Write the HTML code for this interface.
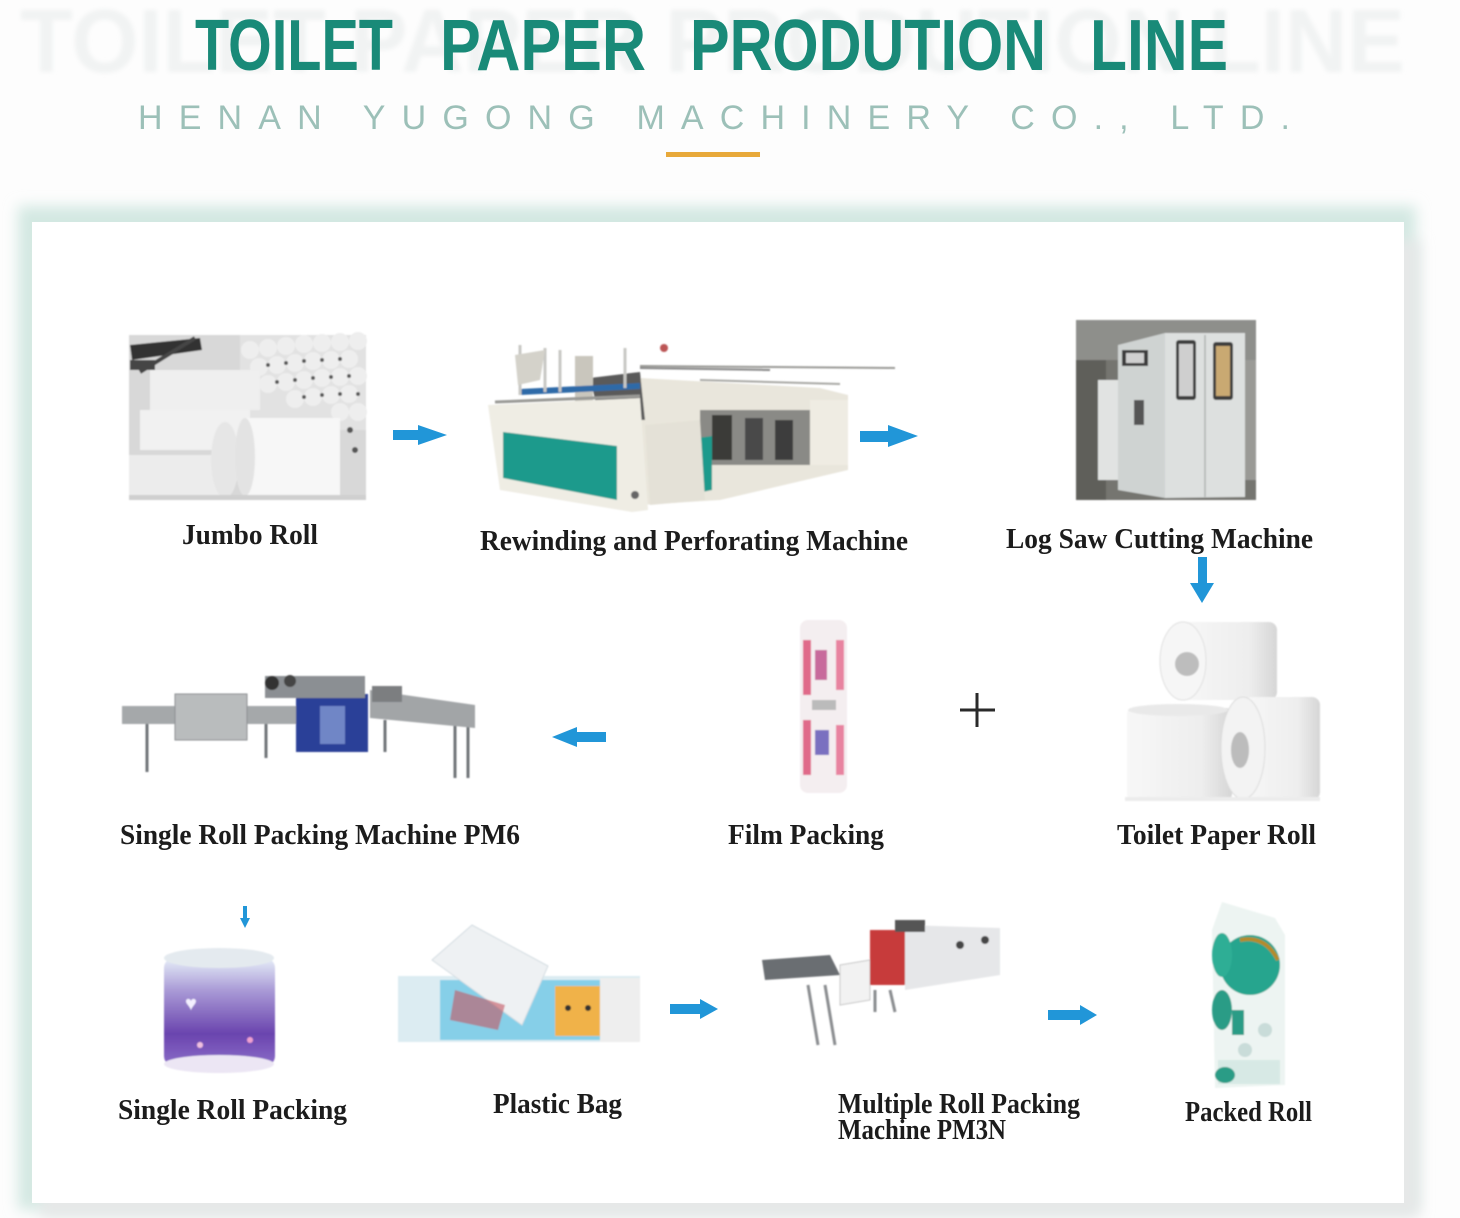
<!DOCTYPE html>
<html><head><meta charset="utf-8"><style>
html,body{margin:0;padding:0;background:#fdfdfd;}
svg{display:block;}
.lbl{font-family:"Liberation Serif",serif;font-weight:bold;font-size:28px;fill:#1c1c1c;}
</style></head><body>
<svg width="1460" height="1218" viewBox="0 0 1460 1218" xmlns="http://www.w3.org/2000/svg">
<defs>
<filter id="b6" x="-10%" y="-10%" width="120%" height="120%"><feGaussianBlur stdDeviation="7"/></filter>
<filter id="b1"><feGaussianBlur stdDeviation="0.7"/></filter>
<filter id="b2"><feGaussianBlur stdDeviation="2"/></filter>
<linearGradient id="can" x1="0" y1="0" x2="0" y2="1">
<stop offset="0" stop-color="#e6eef8"/><stop offset="0.3" stop-color="#a99ad6"/><stop offset="0.7" stop-color="#6a44ae"/><stop offset="1" stop-color="#8a6cc8"/></linearGradient>
<linearGradient id="roll" x1="0" y1="0" x2="1" y2="0">
<stop offset="0" stop-color="#f7f7f7"/><stop offset="0.7" stop-color="#eeeeee"/><stop offset="1" stop-color="#d6d6d6"/></linearGradient>
</defs>
<rect width="1460" height="1218" fill="#fdfdfd"/>

<!-- header -->
<text x="20" y="72" font-family="Liberation Sans,sans-serif" font-weight="bold" font-size="90" fill="#f1f3f3" textLength="1385" lengthAdjust="spacingAndGlyphs" filter="url(#b2)">TOILET PAPER PRODUTION LINE</text>
<g font-family="Liberation Sans,sans-serif" font-weight="bold" font-size="72" fill="#198a78">
<text x="195" y="70" textLength="198" lengthAdjust="spacingAndGlyphs">TOILET</text>
<text x="440" y="70" textLength="206" lengthAdjust="spacingAndGlyphs">PAPER</text>
<text x="690" y="70" textLength="356" lengthAdjust="spacingAndGlyphs">PRODUTION</text>
<text x="1090" y="70" textLength="138" lengthAdjust="spacingAndGlyphs">LINE</text>
</g>
<text x="138" y="129" font-family="Liberation Sans,sans-serif" font-size="34" fill="#9cc0b8" textLength="1152" lengthAdjust="spacing">HENAN YUGONG MACHINERY CO., LTD.</text>
<rect x="666" y="152" width="94" height="5" fill="#e8a93a"/>

<!-- card shadow -->
<rect x="18" y="206" width="1398" height="1004" fill="#d3e8e2" filter="url(#b6)"/>
<rect x="40" y="240" width="1380" height="978" fill="#e6e8e8" filter="url(#b6)"/>
<rect x="32" y="222" width="1372" height="981" fill="#ffffff"/>

<!-- Jumbo roll photo -->
<g filter="url(#b1)">
<rect x="129" y="335" width="237" height="165" fill="#d8d8d8"/>
<rect x="240" y="335" width="126" height="95" fill="#e2e2e2"/>
<g fill="#eeeeee">
<circle cx="250" cy="350" r="9"/><circle cx="268" cy="348" r="9"/><circle cx="286" cy="346" r="9"/><circle cx="304" cy="344" r="9"/><circle cx="322" cy="343" r="9"/><circle cx="340" cy="342" r="9"/><circle cx="358" cy="341" r="9"/>
<circle cx="259" cy="367" r="9"/><circle cx="277" cy="365" r="9"/><circle cx="295" cy="363" r="9"/><circle cx="313" cy="361" r="9"/><circle cx="331" cy="360" r="9"/><circle cx="349" cy="359" r="9"/>
<circle cx="268" cy="384" r="9"/><circle cx="286" cy="382" r="9"/><circle cx="304" cy="380" r="9"/><circle cx="322" cy="378" r="9"/><circle cx="340" cy="377" r="9"/><circle cx="358" cy="376" r="9"/>
<circle cx="295" cy="399" r="9"/><circle cx="313" cy="397" r="9"/><circle cx="331" cy="395" r="9"/><circle cx="349" cy="394" r="9"/>
<circle cx="340" cy="412" r="9"/><circle cx="358" cy="412" r="9"/>
</g>
<g fill="#555">
<circle cx="268" cy="365" r="2"/><circle cx="286" cy="363" r="2"/><circle cx="304" cy="361" r="2"/><circle cx="322" cy="360" r="2"/><circle cx="340" cy="359" r="2"/>
<circle cx="277" cy="382" r="2"/><circle cx="295" cy="380" r="2"/><circle cx="313" cy="378" r="2"/><circle cx="331" cy="377" r="2"/><circle cx="349" cy="376" r="2"/>
<circle cx="304" cy="397" r="2"/><circle cx="322" cy="395" r="2"/><circle cx="340" cy="394" r="2"/><circle cx="358" cy="394" r="2"/>
<circle cx="350" cy="430" r="3"/><circle cx="355" cy="450" r="3"/>
</g>
<rect x="150" y="370" width="110" height="40" fill="#efefef"/>
<rect x="140" y="410" width="110" height="40" fill="#f1f1f1"/>
<rect x="129" y="455" width="100" height="45" fill="#ececec"/>
<path d="M130 345 L200 338 L202 350 L132 360 Z" fill="#333"/>
<path d="M140 372 L195 338" stroke="#444" stroke-width="4"/>
<rect x="130" y="360" width="25" height="10" fill="#444"/>
<ellipse cx="225" cy="460" rx="14" ry="38" fill="#e6e6e6"/>
<rect x="245" y="418" width="95" height="78" fill="#f7f7f7"/>
<ellipse cx="245" cy="457" rx="10" ry="39" fill="#e3e3e3"/>
<rect x="129" y="495" width="237" height="5" fill="#cfcfcf"/>
</g>

<!-- Rewinding machine -->
<g filter="url(#b1)">
<polygon points="640,378 820,388 848,395 848,470 720,500 640,505" fill="#e9e6dc"/>
<line x1="640" y1="366" x2="895" y2="368" stroke="#9a9a96" stroke-width="2"/>
<line x1="700" y1="380" x2="840" y2="384" stroke="#a8a8a4" stroke-width="2"/>
<rect x="700" y="410" width="110" height="55" fill="#8a8a86"/>
<rect x="712" y="415" width="20" height="45" fill="#3a3a38"/>
<rect x="745" y="418" width="18" height="42" fill="#4a4a48"/>
<rect x="775" y="420" width="18" height="40" fill="#3e3e3c"/>
<rect x="810" y="400" width="38" height="65" fill="#efece3"/>
<polygon points="590,378 640,372 645,420 600,420" fill="#5a5a5a"/>
<rect x="575" y="356" width="18" height="55" fill="#c9c6bd"/>
<polygon points="488,405 640,398 648,510 632,512 500,490" fill="#efede4"/>
<polygon points="503,432 617,446 617,500 503,478" fill="#1e9a8c"/>
<polygon points="683,440 712,436 712,490 683,496" fill="#1e9a8c"/>
<polygon points="645,425 700,420 705,500 650,505" fill="#e4e1d7"/>
<line x1="520" y1="392" x2="640" y2="386" stroke="#2f6aa8" stroke-width="6"/>
<line x1="495" y1="402" x2="640" y2="396" stroke="#9a9a96" stroke-width="3"/>
<line x1="520" y1="345" x2="520" y2="395" stroke="#c8c8c4" stroke-width="3"/>
<line x1="545" y1="348" x2="545" y2="392" stroke="#c8c8c4" stroke-width="3"/>
<line x1="560" y1="350" x2="560" y2="392" stroke="#c8c8c4" stroke-width="3"/>
<line x1="625" y1="348" x2="625" y2="388" stroke="#c8c8c4" stroke-width="3"/>
<polygon points="515,355 545,350 540,380 518,385" fill="#d4d2ca"/>
<line x1="640" y1="368" x2="770" y2="370" stroke="#888" stroke-width="2"/>
<circle cx="635" cy="495" r="4" fill="#666"/>
<circle cx="664" cy="348" r="4" fill="#b55"/>
</g>

<!-- Log saw photo -->
<g filter="url(#b1)">
<rect x="1076" y="320" width="180" height="180" fill="#74746f"/>
<rect x="1076" y="320" width="180" height="40" fill="#8e8f8b"/>
<rect x="1076" y="360" width="30" height="140" fill="#5e5e5a"/>
<rect x="1098" y="380" width="32" height="100" fill="#e1e3e2"/>
<polygon points="1118,345 1165,333 1165,498 1118,490" fill="#cfd3d2"/>
<polygon points="1165,333 1245,333 1245,497 1165,498" fill="#dde0df"/>
<rect x="1122" y="350" width="26" height="16" fill="#3a3a3a"/><rect x="1126" y="353" width="18" height="10" fill="#d0d0d0"/>
<rect x="1176" y="340" width="20" height="60" rx="3" fill="#3c3c3c"/><rect x="1179" y="344" width="14" height="52" fill="#cfcfcf"/>
<rect x="1213" y="342" width="20" height="58" rx="3" fill="#3c3c3c"/><rect x="1216" y="346" width="14" height="50" fill="#c9a972"/>
<rect x="1134" y="400" width="10" height="25" fill="#555"/>
<line x1="1205" y1="335" x2="1205" y2="497" stroke="#b0b3b2" stroke-width="1.5"/>
<rect x="1245" y="360" width="11" height="120" fill="#9a9a96"/>
</g>

<!-- labels row 1 -->
<text class="lbl" x="182" y="544" textLength="136" lengthAdjust="spacingAndGlyphs">Jumbo Roll</text>
<text class="lbl" x="480" y="550" textLength="428" lengthAdjust="spacingAndGlyphs">Rewinding and Perforating Machine</text>
<text class="lbl" x="1006" y="548" textLength="307" lengthAdjust="spacingAndGlyphs">Log Saw Cutting Machine</text>

<!-- arrows -->
<g fill="#2196d8">
<polygon points="393,430 418,430 418,425 447,435 418,445 418,440 393,440"/>
<polygon points="860,431 888,431 888,425 918,436 888,447 888,442 860,442"/>
<polygon points="1198,557 1207,557 1207,583 1214,583 1202,603 1190,583 1198,583"/>
<polygon points="606,732 577,732 577,727 552,737 577,747 577,742 606,742"/>
<polygon points="243,906 247,906 247,918 250,918 245,928 240,918 243,918"/>
<polygon points="670,1004 700,1004 700,999 718,1009 700,1019 700,1014 670,1014"/>
<polygon points="1048,1010 1080,1010 1080,1005 1097,1015 1080,1025 1080,1020 1048,1020"/>
</g>

<!-- toilet rolls -->
<g filter="url(#b1)">
<rect x="1180" y="622" width="97" height="78" rx="8" fill="url(#roll)"/>
<ellipse cx="1183" cy="661" rx="23" ry="39" fill="#f6f6f6" stroke="#e0e0e0"/>
<circle cx="1187" cy="664" r="12" fill="#bdbdbd"/>
<rect x="1127" y="708" width="105" height="92" rx="6" fill="url(#roll)"/>
<ellipse cx="1178" cy="710" rx="50" ry="6" fill="#e9e9e9"/>
<rect x="1243" y="697" width="77" height="103" rx="8" fill="url(#roll)"/>
<ellipse cx="1243" cy="748" rx="22" ry="51" fill="#f3f3f3" stroke="#dcdcdc"/>
<ellipse cx="1240" cy="750" rx="9" ry="18" fill="#bcbcbc"/>
<rect x="1125" y="797" width="195" height="4" fill="#ececec"/>
</g>
<text class="lbl" x="1117" y="844" textLength="199" lengthAdjust="spacingAndGlyphs">Toilet Paper Roll</text>

<!-- plus -->
<g stroke="#2a2a2a" stroke-width="3"><line x1="960" y1="710" x2="995" y2="710"/><line x1="977" y1="693" x2="977" y2="727"/></g>

<!-- film -->
<g filter="url(#b1)">
<rect x="800" y="620" width="47" height="173" rx="8" fill="#f4eef0"/>
<rect x="803" y="640" width="8" height="55" fill="#e06b8a"/>
<rect x="836" y="640" width="8" height="50" fill="#e883a0"/>
<rect x="815" y="650" width="12" height="30" fill="#c86b9c"/>
<rect x="803" y="720" width="8" height="55" fill="#e06b8a"/>
<rect x="836" y="725" width="8" height="50" fill="#e883a0"/>
<rect x="815" y="730" width="14" height="25" fill="#7a6fc0"/>
<rect x="812" y="700" width="24" height="10" fill="#bbb"/>
</g>
<text class="lbl" x="728" y="844" textLength="156" lengthAdjust="spacingAndGlyphs">Film Packing</text>

<!-- single roll packing machine -->
<g filter="url(#b1)">
<g stroke="#707478" stroke-width="3">
<line x1="147" y1="720" x2="147" y2="772"/><line x1="266" y1="722" x2="266" y2="758"/><line x1="385" y1="720" x2="385" y2="752"/><line x1="455" y1="725" x2="455" y2="778"/><line x1="468" y1="725" x2="468" y2="778"/>
</g>
<rect x="122" y="706" width="180" height="18" fill="#a5a8aa"/>
<rect x="175" y="694" width="72" height="46" fill="#b9bcbd" stroke="#8a8d90"/>
<rect x="296" y="694" width="72" height="58" fill="#2c3f98"/>
<rect x="320" y="706" width="25" height="38" fill="#6f86c6"/>
<rect x="265" y="676" width="100" height="22" fill="#8b8f93"/>
<circle cx="272" cy="683" r="7" fill="#333"/><circle cx="290" cy="681" r="6" fill="#444"/>
<polygon points="370,690 475,705 475,728 370,718" fill="#a2a5a7"/>
<rect x="372" y="686" width="30" height="16" fill="#7b7e80"/>
</g>
<text class="lbl" x="120" y="844" textLength="400" lengthAdjust="spacingAndGlyphs">Single Roll Packing Machine PM6</text>

<!-- purple can -->
<g filter="url(#b1)">
<rect x="164" y="958" width="111" height="108" rx="10" fill="url(#can)"/>
<ellipse cx="219" cy="958" rx="55" ry="10" fill="#e4eaef"/>
<ellipse cx="219" cy="1064" rx="55" ry="9" fill="#ece6f4"/>
<text x="185" y="1010" font-family="Liberation Sans,sans-serif" font-weight="bold" font-size="20" fill="#f4f0ff">♥</text>
<circle cx="250" cy="1040" r="3" fill="#f0a0d0"/><circle cx="200" cy="1045" r="3" fill="#f0c0e0"/>
</g>
<text class="lbl" x="118" y="1119" textLength="229" lengthAdjust="spacingAndGlyphs">Single Roll Packing</text>

<!-- plastic bag -->
<g filter="url(#b1)">
<rect x="398" y="976" width="242" height="66" fill="#dcecf2"/>
<rect x="440" y="980" width="160" height="60" fill="#86cfe8"/>
<rect x="555" y="986" width="45" height="50" fill="#f0b24a"/>
<circle cx="568" cy="1008" r="3" fill="#333"/><circle cx="588" cy="1008" r="3" fill="#333"/>
<rect x="600" y="978" width="40" height="64" fill="#eeeeee"/>
<polygon points="432,960 472,925 548,966 522,1025" fill="#eef1f3" stroke="#d4dde2"/>
<polygon points="455,990 505,1005 498,1030 450,1020" fill="#c55560" opacity="0.6"/>
</g>
<text class="lbl" x="493" y="1113" textLength="129" lengthAdjust="spacingAndGlyphs">Plastic Bag</text>

<!-- multiple roll packing machine -->
<g filter="url(#b1)">
<g stroke="#8a8d90" stroke-width="3">
<line x1="808" y1="985" x2="818" y2="1045"/><line x1="825" y1="985" x2="835" y2="1045"/><line x1="875" y1="990" x2="875" y2="1012"/><line x1="890" y1="990" x2="895" y2="1012"/>
</g>
<polygon points="762,960 830,955 840,975 765,980" fill="#6a6e72"/>
<polygon points="840,965 870,960 870,1000 840,1005" fill="#f2f2f2" stroke="#c8c8c8"/>
<rect x="870" y="930" width="35" height="55" fill="#c73a3a"/>
<polygon points="905,925 1000,928 1000,975 905,990" fill="#e6e7e9"/>
<rect x="895" y="920" width="30" height="12" fill="#555"/>
<circle cx="960" cy="945" r="4" fill="#444"/><circle cx="985" cy="940" r="4" fill="#444"/>
</g>
<text class="lbl" x="838" y="1113" textLength="242" lengthAdjust="spacingAndGlyphs">Multiple  Roll Packing</text>
<text class="lbl" x="838" y="1139" textLength="168" lengthAdjust="spacingAndGlyphs">Machine PM3N</text>

<!-- packed roll -->
<g filter="url(#b1)">
<polygon points="1212,930 1222,902 1275,918 1285,935 1285,1085 1215,1088" fill="#edf4f2"/>
<ellipse cx="1250" cy="965" rx="30" ry="30" fill="#27a58e"/>
<ellipse cx="1222" cy="955" rx="10" ry="22" fill="#2fae95"/>
<ellipse cx="1222" cy="1010" rx="10" ry="20" fill="#2a9c86"/>
<rect x="1232" y="1010" width="12" height="25" fill="#2a9c86"/>
<path d="M1240 940 Q1265 935 1278 960" stroke="#b58b2a" stroke-width="4" fill="none"/>
<circle cx="1265" cy="1030" r="7" fill="#c9dcd9"/><circle cx="1245" cy="1050" r="7" fill="#c9dcd9"/>
<rect x="1218" y="1060" width="62" height="24" fill="#d7e9e5"/>
<ellipse cx="1225" cy="1075" rx="10" ry="8" fill="#2a9c86"/>
</g>
<text class="lbl" x="1185" y="1121" textLength="127" lengthAdjust="spacingAndGlyphs">Packed Roll</text>
</svg>
</body></html>
